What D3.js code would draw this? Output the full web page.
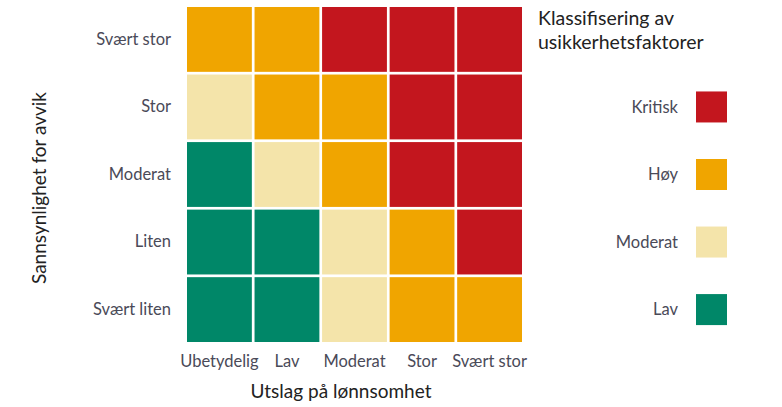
<!DOCTYPE html>
<html>
<head>
<meta charset="utf-8">
<script src="https://cdn.jsdelivr.net/npm/d3@7"></script>
<style>
  body { margin: 0; background: #fff; }
  svg { font-family: Lato, "Open Sans", sans-serif; }
</style>
</head>
<body>
<svg id="chart"></svg>
<script>
var width = 782,
    height = 407;

// Data
var impact = ['Ubetydelig', 'Lav', 'Moderat', 'Stor', 'Svært stor'];
var likelihood = ['Svært stor', 'Stor', 'Moderat', 'Liten', 'Svært liten'];
var classes = ['Kritisk', 'Høy', 'Moderat', 'Lav'];
var classColors = ['#C3161E', '#F0A500', '#F4E4AA', '#008768'];
// rows follow likelihood, columns follow impact
var matrix = [
    ['Høy', 'Høy', 'Kritisk', 'Kritisk', 'Kritisk'],
    ['Moderat', 'Høy', 'Høy', 'Kritisk', 'Kritisk'],
    ['Lav', 'Moderat', 'Høy', 'Kritisk', 'Kritisk'],
    ['Lav', 'Lav', 'Moderat', 'Høy', 'Kritisk'],
    ['Lav', 'Lav', 'Moderat', 'Høy', 'Høy']
];

var color = d3.scaleOrdinal()
    .domain(classes)
    .range(classColors);

var x = d3.scaleBand()
    .domain(impact)
    .range([187, 522])
    .paddingInner(0.04);

var y = d3.scaleBand()
    .domain(likelihood)
    .range([7, 342])
    .paddingInner(0.04);

var svg = d3.select('#chart')
    .attr('width', width)
    .attr('height', height);

// flatten matrix into cells
var cells = [];
matrix.forEach(function (row, i) {
    row.forEach(function (c, j) {
        cells.push({ row: likelihood[i], col: impact[j], cls: c });
    });
});

svg.append('g')
    .selectAll('rect')
    .data(cells)
    .enter().append('rect')
    .attr('x', function (d) { return x(d.col); })
    .attr('y', function (d) { return y(d.row); })
    .attr('width', x.bandwidth())
    .attr('height', y.bandwidth())
    .style('fill', function (d) { return color(d.cls); });

// Axes
var xAxis = svg.append('g')
    .attr('transform', 'translate(0,' + 355 + ')')
    .call(d3.axisBottom(x).tickSize(0).tickPadding(0));

var yAxis = svg.append('g')
    .attr('transform', 'translate(' + 171 + ',0)')
    .call(d3.axisLeft(y).tickSize(0).tickPadding(0));

[xAxis, yAxis].forEach(function (a) {
    a.select('.domain').remove();
    a.selectAll('text')
        .style('font-size', '16.5px')
        .style('font-family', 'Lato, sans-serif')
        .style('fill', '#4a4a58');
});

// Axis titles
svg.append('text')
    .attr('x', 341)
    .attr('y', 398)
    .attr('text-anchor', 'middle')
    .style('font-size', '19px')
    .style('fill', '#222')
    .text('Utslag på lønnsomhet');

svg.append('text')
    .attr('transform', 'translate(46,188) rotate(-90)')
    .attr('text-anchor', 'middle')
    .style('font-size', '19px')
    .style('fill', '#222')
    .text('Sannsynlighet for avvik');

// Legend
var legendTitle = svg.append('text')
    .attr('x', 538)
    .attr('y', 25)
    .style('font-size', '19.5px')
    .style('fill', '#222');
legendTitle.append('tspan').attr('x', 538).text('Klassifisering av');
legendTitle.append('tspan').attr('x', 538).attr('dy', 24).text('usikkerhetsfaktorer');

var legend = svg.append('g')
    .selectAll('g')
    .data(classes)
    .enter().append('g')
    .attr('transform', function (d, i) {
        return 'translate(0,' + (y(likelihood[i + 1]) + y.bandwidth() / 2) + ')';
    });

legend.append('rect')
    .attr('x', 696)
    .attr('y', -15.5)
    .attr('width', 31)
    .attr('height', 31)
    .style('fill', function (d) { return color(d); });

legend.append('text')
    .attr('x', 678)
    .attr('dy', '0.35em')
    .attr('text-anchor', 'end')
    .style('font-size', '16.5px')
    .style('fill', '#4a4a58')
    .text(function (d) { return d; });
</script>
</body>
</html>
